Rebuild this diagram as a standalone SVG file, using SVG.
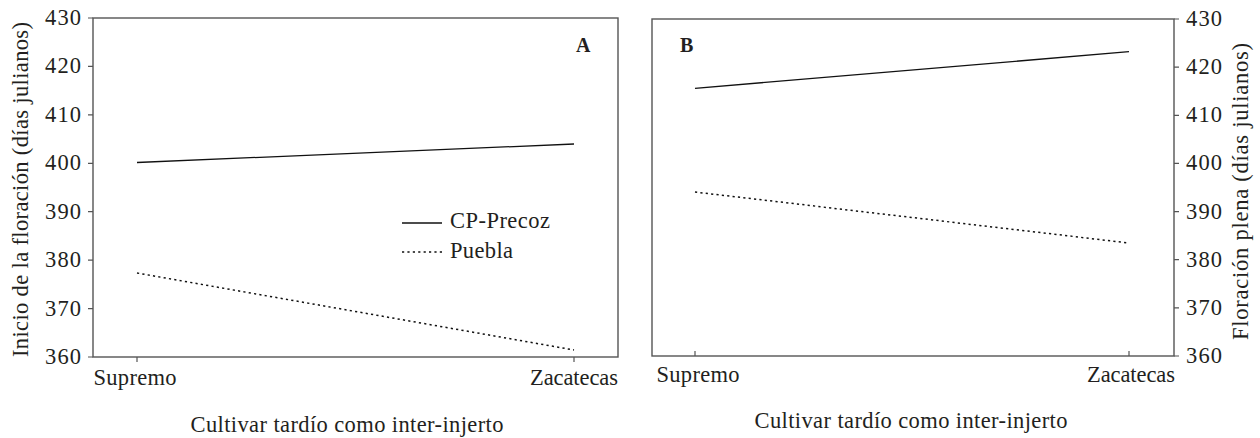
<svg xmlns="http://www.w3.org/2000/svg" width="1260" height="438" viewBox="0 0 1260 438">
<style>
text{fill:#231f20;font-size:22.5px}
.frame{fill:none;stroke:#555;stroke-width:1.4}
.tick{stroke:#555;stroke-width:1.2}
.solid{stroke:#111;stroke-width:1.3;fill:none}
.dot{stroke:#111;stroke-width:1.5;fill:none;stroke-dasharray:2.2 3.2}
.yl{text-anchor:end}
.yr{text-anchor:start}
.xl{text-anchor:middle}
.tag{font-weight:bold;font-size:20px}
</style>
<g font-family="'Liberation Serif', 'DejaVu Serif', serif">
<g id="panelA">
<rect class="frame" x="93" y="18" width="525" height="339"/>
<g id="ticksA">
<path class="tick" d="M88 18H93M88 66.4H93M88 114.9H93M88 163.3H93M88 211.7H93M88 260.1H93M88 308.6H93M88 357H93M137 357V362M574 357V362"/>
</g>
<g id="ylabelsA">
<text class="yl" x="81" y="25" textLength="36">430</text>
<text class="yl" x="81" y="73.4" textLength="36">420</text>
<text class="yl" x="81" y="121.9" textLength="36">410</text>
<text class="yl" x="81" y="170.3" textLength="36">400</text>
<text class="yl" x="81" y="218.7" textLength="36">390</text>
<text class="yl" x="81" y="267.1" textLength="36">380</text>
<text class="yl" x="81" y="315.6" textLength="36">370</text>
<text class="yl" x="81" y="364" textLength="36">360</text>
</g>
<text class="xl" x="135" y="385" textLength="83">Supremo</text>
<text class="xl" x="574" y="385" textLength="88">Zacatecas</text>
<text class="xl" x="347" y="432" textLength="313">Cultivar tardío como inter-injerto</text>
<text class="xl" transform="translate(28 189.5) rotate(-90)" textLength="335">Inicio de la floración (días julianos)</text>
<text class="tag" x="576" y="52">A</text>
<g id="dataA">
<path class="solid" d="M137 162.5L574 144"/>
<path class="dot" d="M137 273L574 350"/>
</g>
<g id="legendA">
<path class="solid" d="M402 223H442"/>
<text x="450" y="228" textLength="100">CP-Precoz</text>
<path class="dot" d="M402 252H442"/>
<text x="450" y="258" textLength="63">Puebla</text>
</g>
</g>
<g id="panelB">
<rect class="frame" x="652" y="19" width="522" height="337"/>
<g id="ticksB">
<path class="tick" d="M1174 19H1179M1174 67.1H1179M1174 115.3H1179M1174 163.4H1179M1174 211.6H1179M1174 259.7H1179M1174 307.9H1179M1174 356H1179M695 356V351M1129 356V351"/>
</g>
<g id="ylabelsB">
<text class="yr" x="1186" y="26" textLength="36">430</text>
<text class="yr" x="1186" y="74.1" textLength="36">420</text>
<text class="yr" x="1186" y="122.3" textLength="36">410</text>
<text class="yr" x="1186" y="170.4" textLength="36">400</text>
<text class="yr" x="1186" y="218.6" textLength="36">390</text>
<text class="yr" x="1186" y="266.7" textLength="36">380</text>
<text class="yr" x="1186" y="314.9" textLength="36">370</text>
<text class="yr" x="1186" y="363" textLength="36">360</text>
</g>
<text class="xl" x="698" y="382" textLength="83">Supremo</text>
<text class="xl" x="1131" y="382" textLength="88">Zacatecas</text>
<text class="xl" x="911" y="428" textLength="313">Cultivar tardío como inter-injerto</text>
<text class="xl" transform="translate(1248 191.5) rotate(-90)" textLength="297">Floración plena (días julianos)</text>
<text class="tag" x="680" y="52">B</text>
<g id="dataB">
<path class="solid" d="M695 88.3L1129 51.7"/>
<path class="dot" d="M695 192L1129 243"/>
</g>
</g>
</g>
</svg>
